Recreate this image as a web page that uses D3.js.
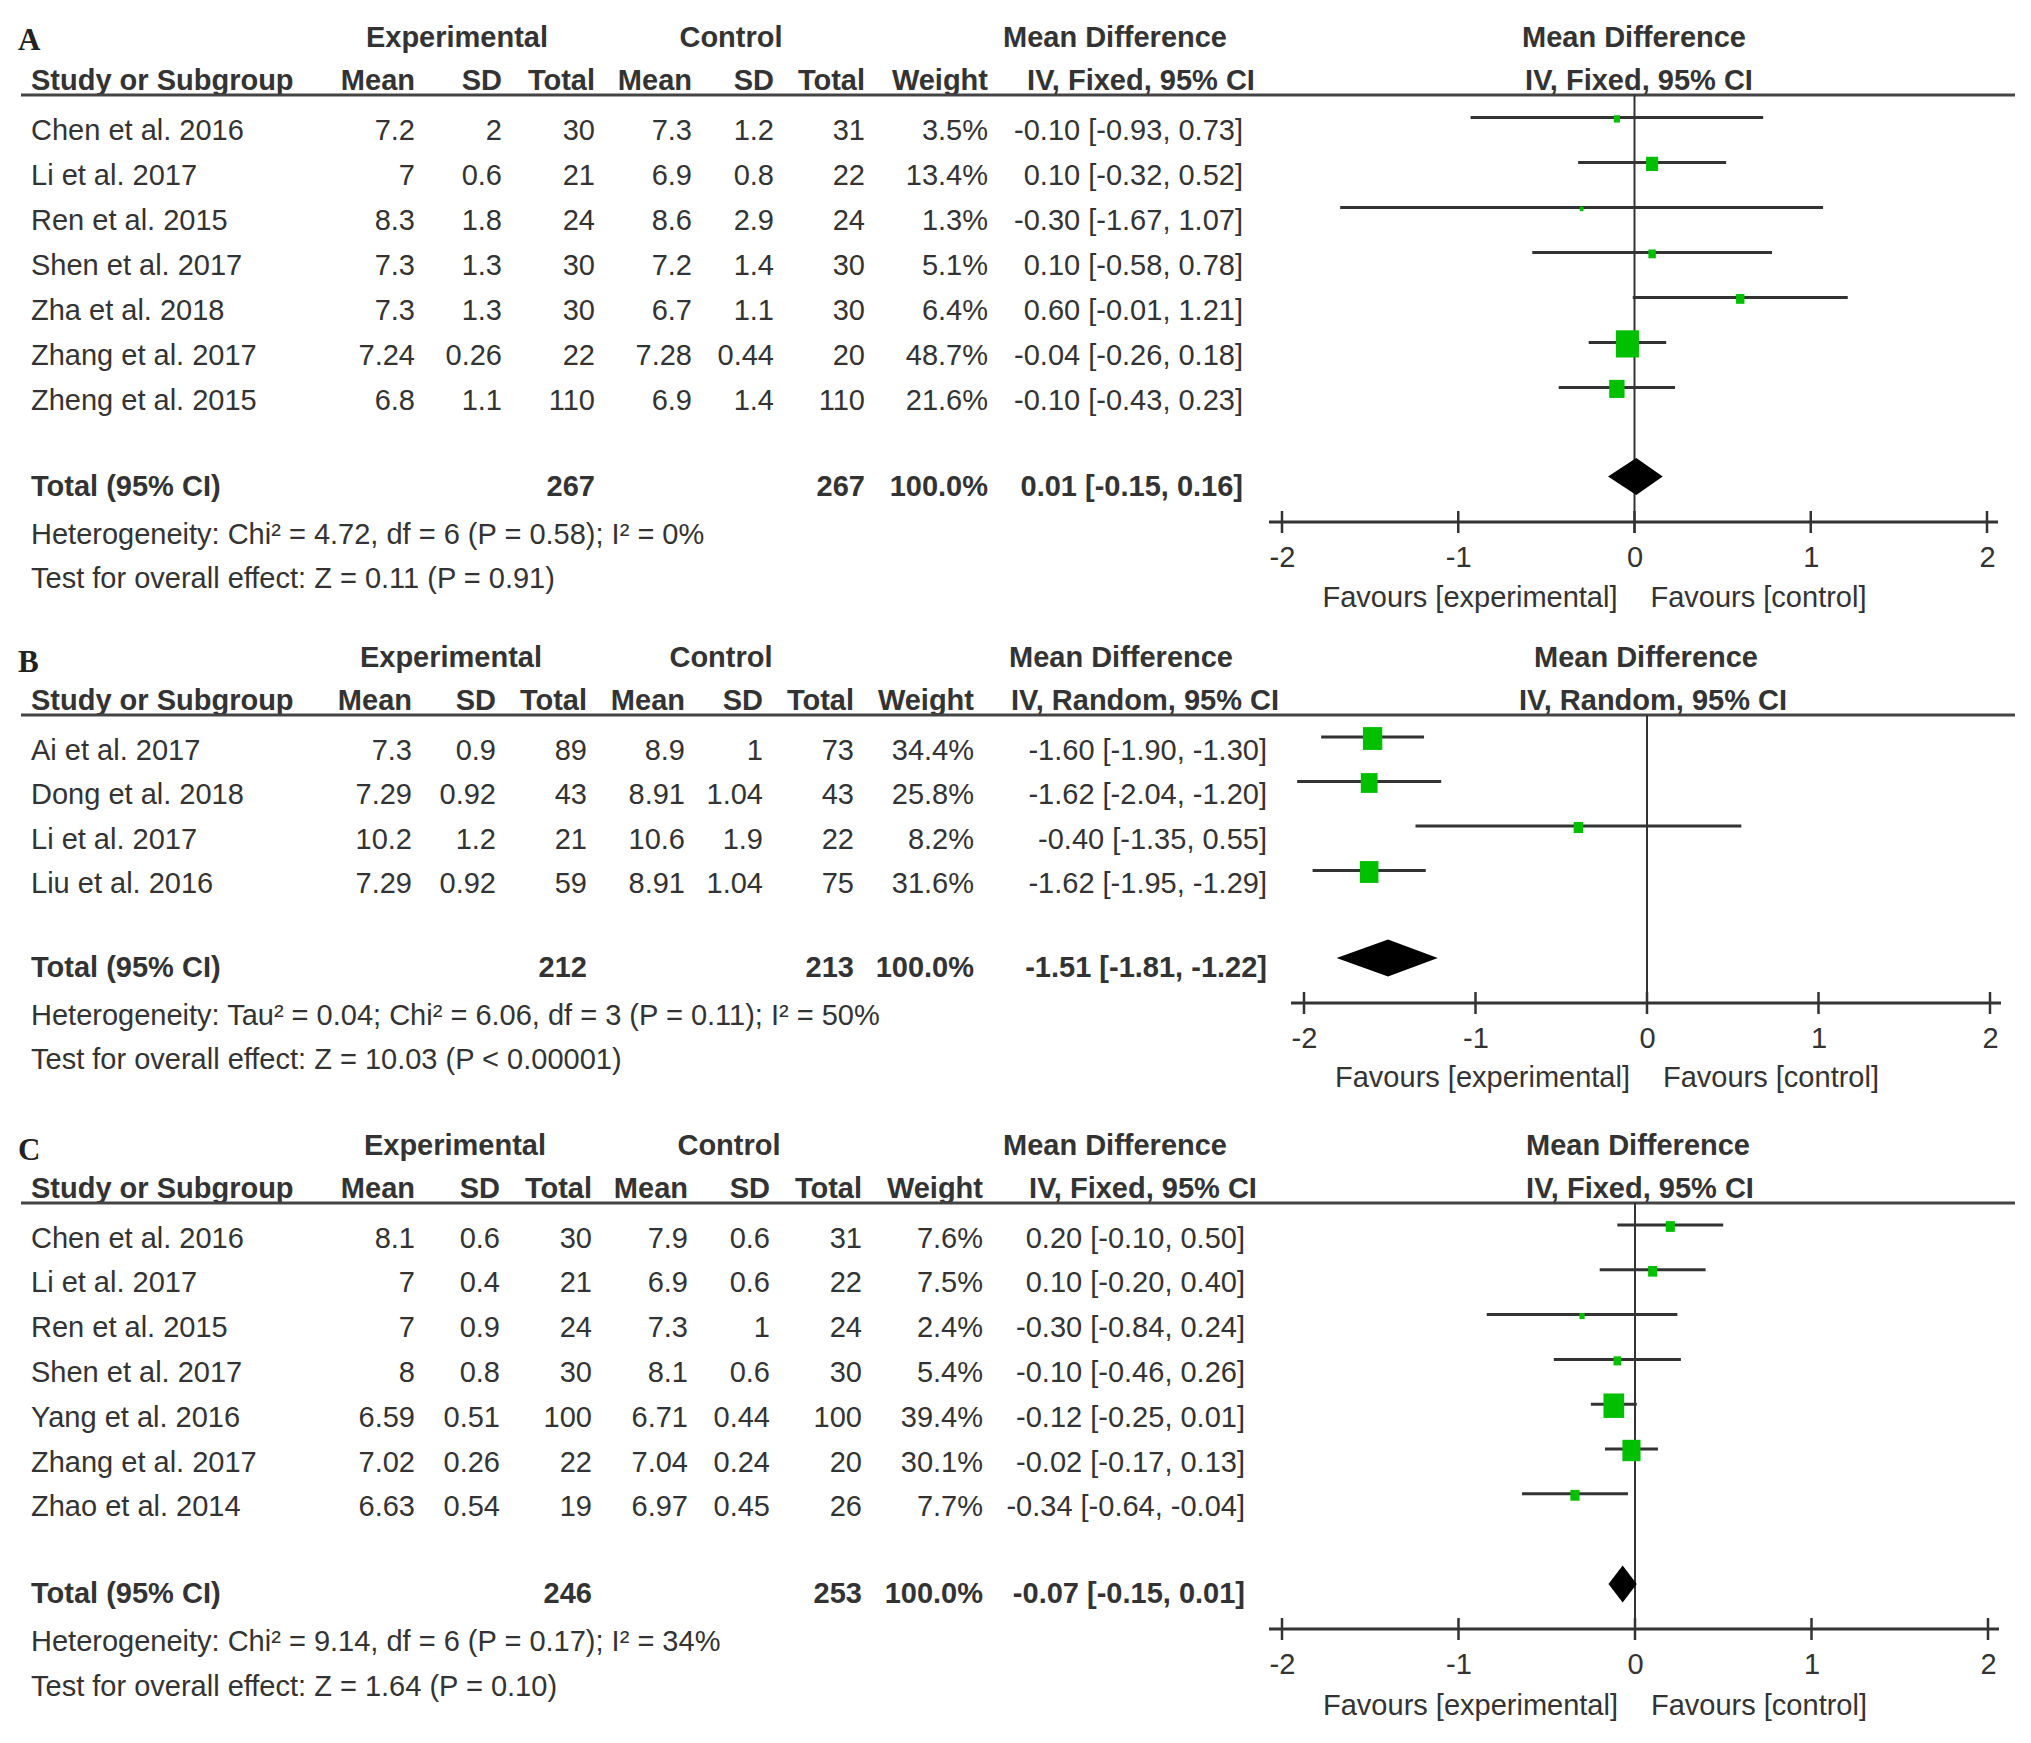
<!DOCTYPE html>
<html><head><meta charset="utf-8">
<script src="https://cdn.jsdelivr.net/npm/d3@7"></script>
<style>body{margin:0;background:#fff}svg{display:block}</style>
</head><body>
<svg id="chart" width="2031" height="1743"></svg>
<script>
// ---------- DATA ----------
const ticks = [-2, -1, 0, 1, 2];

// Panel A
const studiesA = ["Chen et al. 2016","Li et al. 2017","Ren et al. 2015","Shen et al. 2017","Zha et al. 2018","Zhang et al. 2017","Zheng et al. 2015"];
const expMeanA = [7.2, 7, 8.3, 7.3, 7.3, 7.24, 6.8];
const expSDA   = [2, 0.6, 1.8, 1.3, 1.3, 0.26, 1.1];
const expNA    = [30, 21, 24, 30, 30, 22, 110];
const ctlMeanA = [7.3, 6.9, 8.6, 7.2, 6.7, 7.28, 6.9];
const ctlSDA   = [1.2, 0.8, 2.9, 1.4, 1.1, 0.44, 1.4];
const ctlNA    = [31, 22, 24, 30, 30, 20, 110];
const weightA  = [3.5, 13.4, 1.3, 5.1, 6.4, 48.7, 21.6];
const mdA      = [-0.10, 0.10, -0.30, 0.10, 0.60, -0.04, -0.10];
const lowA     = [-0.93, -0.32, -1.67, -0.58, -0.01, -0.26, -0.43];
const highA    = [0.73, 0.52, 1.07, 0.78, 1.21, 0.18, 0.23];
const totalA   = {expN: 267, ctlN: 267, md: 0.01, low: -0.15, high: 0.16};
const hetA  = "Heterogeneity: Chi² = 4.72, df = 6 (P = 0.58); I² = 0%";
const testA = "Test for overall effect: Z = 0.11 (P = 0.91)";

// Panel B
const studiesB = ["Ai et al. 2017","Dong et al. 2018","Li et al. 2017","Liu et al. 2016"];
const expMeanB = [7.3, 7.29, 10.2, 7.29];
const expSDB   = [0.9, 0.92, 1.2, 0.92];
const expNB    = [89, 43, 21, 59];
const ctlMeanB = [8.9, 8.91, 10.6, 8.91];
const ctlSDB   = [1, 1.04, 1.9, 1.04];
const ctlNB    = [73, 43, 22, 75];
const weightB  = [34.4, 25.8, 8.2, 31.6];
const mdB      = [-1.60, -1.62, -0.40, -1.62];
const lowB     = [-1.90, -2.04, -1.35, -1.95];
const highB    = [-1.30, -1.20, 0.55, -1.29];
const totalB   = {expN: 212, ctlN: 213, md: -1.51, low: -1.81, high: -1.22};
const hetB  = "Heterogeneity: Tau² = 0.04; Chi² = 6.06, df = 3 (P = 0.11); I² = 50%";
const testB = "Test for overall effect: Z = 10.03 (P < 0.00001)";

// Panel C
const studiesC = ["Chen et al. 2016","Li et al. 2017","Ren et al. 2015","Shen et al. 2017","Yang et al. 2016","Zhang et al. 2017","Zhao et al. 2014"];
const expMeanC = [8.1, 7, 7, 8, 6.59, 7.02, 6.63];
const expSDC   = [0.6, 0.4, 0.9, 0.8, 0.51, 0.26, 0.54];
const expNC    = [30, 21, 24, 30, 100, 22, 19];
const ctlMeanC = [7.9, 6.9, 7.3, 8.1, 6.71, 7.04, 6.97];
const ctlSDC   = [0.6, 0.6, 1, 0.6, 0.44, 0.24, 0.45];
const ctlNC    = [31, 22, 24, 30, 100, 20, 26];
const weightC  = [7.6, 7.5, 2.4, 5.4, 39.4, 30.1, 7.7];
const mdC      = [0.20, 0.10, -0.30, -0.10, -0.12, -0.02, -0.34];
const lowC     = [-0.10, -0.20, -0.84, -0.46, -0.25, -0.17, -0.64];
const highC    = [0.50, 0.40, 0.24, 0.26, 0.01, 0.13, -0.04];
const totalC   = {expN: 246, ctlN: 253, md: -0.07, low: -0.15, high: 0.01};
const hetC  = "Heterogeneity: Chi² = 9.14, df = 6 (P = 0.17); I² = 34%";
const testC = "Test for overall effect: Z = 1.64 (P = 0.10)";

// ---------- LAYOUT ----------
const panels = [
  {letter:"A", method:"IV, Fixed, 95% CI",
   studies:studiesA, em:expMeanA, es:expSDA, en:expNA, cm:ctlMeanA, cs:ctlSDA, cn:ctlNA, w:weightA, md:mdA, lo:lowA, hi:highA, total:totalA, het:hetA, test:testA,
   letterY:50, h1:47, h2:90, line:95, row0:117.4, step:45, diamond:476.5, axis:522, tickY:567, favY:607, hetY:544, testY:588,
   cols:{mean:415, sd:502, tot:595, cmean:692, csd:774, ctot:865, wt:988, ci:1243},
   hdr:{exp:457, ctl:731, md:1115, iv:1141, rmd:1634, riv:1639},
   xr:[1282, 1987]},
  {letter:"B", method:"IV, Random, 95% CI",
   studies:studiesB, em:expMeanB, es:expSDB, en:expNB, cm:ctlMeanB, cs:ctlSDB, cn:ctlNB, w:weightB, md:mdB, lo:lowB, hi:highB, total:totalB, het:hetB, test:testB,
   letterY:672, h1:667, h2:710, line:715, row0:737, step:44.5, diamond:958, axis:1003, tickY:1048, favY:1087, hetY:1025, testY:1069,
   cols:{mean:412, sd:496, tot:587, cmean:685, csd:763, ctot:854, wt:974, ci:1267},
   hdr:{exp:451, ctl:721, md:1121, iv:1145, rmd:1646, riv:1653},
   xr:[1304, 1990]},
  {letter:"C", method:"IV, Fixed, 95% CI",
   studies:studiesC, em:expMeanC, es:expSDC, en:expNC, cm:ctlMeanC, cs:ctlSDC, cn:ctlNC, w:weightC, md:mdC, lo:lowC, hi:highC, total:totalC, het:hetC, test:testC,
   letterY:1160, h1:1155, h2:1198, line:1203, row0:1225, step:44.8, diamond:1584, axis:1629, tickY:1674, favY:1715, hetY:1651, testY:1696,
   cols:{mean:415, sd:500, tot:592, cmean:688, csd:770, ctot:862, wt:983, ci:1245},
   hdr:{exp:455, ctl:729, md:1115, iv:1143, rmd:1638, riv:1640},
   xr:[1282, 1988]}
];

const svg = d3.select("#chart");
const FONT = "'Liberation Sans', Arial, sans-serif";
const FS = 29;
const TXT = "#333";
const GREEN = "#00c000";
const fmtCI = (m, l, h) => `${m.toFixed(2)} [${l.toFixed(2)}, ${h.toFixed(2)}]`;

function txt(g, x, y, s, opts = {}) {
  return g.append("text").attr("x", x).attr("y", y).text(s)
    .attr("font-family", FONT).attr("font-size", opts.size || FS)
    .attr("font-weight", opts.bold ? "bold" : "normal")
    .attr("fill", TXT).attr("text-anchor", opts.anchor || "start");
}

panels.forEach(p => {
  const g = svg.append("g");
  const x = d3.scaleLinear().domain([-2, 2]).range(p.xr);
  const n = p.studies.length;
  const y = d3.scaleLinear().domain([0, 1]).range([p.row0, p.row0 + p.step]);

  // panel letter
  g.append("text").attr("x", 18).attr("y", p.letterY).text(p.letter)
    .attr("font-family", "'Liberation Serif', 'Times New Roman', serif")
    .attr("font-weight", "bold").attr("font-size", 31).attr("fill", "#222");

  // header row 1
  txt(g, p.hdr.exp, p.h1, "Experimental", {bold:true, anchor:"middle"});
  txt(g, p.hdr.ctl, p.h1, "Control", {bold:true, anchor:"middle"});
  txt(g, p.hdr.md, p.h1, "Mean Difference", {bold:true, anchor:"middle"});
  txt(g, p.hdr.rmd, p.h1, "Mean Difference", {bold:true, anchor:"middle"});
  // header row 2
  txt(g, 31, p.h2, "Study or Subgroup", {bold:true});
  const c = p.cols;
  [["Mean", c.mean], ["SD", c.sd], ["Total", c.tot], ["Mean", c.cmean], ["SD", c.csd], ["Total", c.ctot], ["Weight", c.wt]]
    .forEach(([s, xx]) => txt(g, xx, p.h2, s, {bold:true, anchor:"end"}));
  txt(g, p.hdr.iv, p.h2, p.method, {bold:true, anchor:"middle"});
  txt(g, p.hdr.riv, p.h2, p.method, {bold:true, anchor:"middle"});

  // header line
  g.append("line").attr("x1", 21).attr("x2", 2015).attr("y1", p.line).attr("y2", p.line)
    .attr("stroke", "#444").attr("stroke-width", 3);

  // rows
  for (let i = 0; i < n; i++) {
    const ly = y(i), by = ly + 22.6;
    txt(g, 31, by, p.studies[i]);
    txt(g, c.mean, by, String(p.em[i]), {anchor:"end"});
    txt(g, c.sd, by, String(p.es[i]), {anchor:"end"});
    txt(g, c.tot, by, String(p.en[i]), {anchor:"end"});
    txt(g, c.cmean, by, String(p.cm[i]), {anchor:"end"});
    txt(g, c.csd, by, String(p.cs[i]), {anchor:"end"});
    txt(g, c.ctot, by, String(p.cn[i]), {anchor:"end"});
    txt(g, c.wt, by, p.w[i].toFixed(1) + "%", {anchor:"end"});
    txt(g, c.ci, by, fmtCI(p.md[i], p.lo[i], p.hi[i]), {anchor:"end"});
  }

  // total row
  const tb = p.diamond + 19;
  txt(g, 31, tb, "Total (95% CI)", {bold:true});
  txt(g, c.tot, tb, String(p.total.expN), {bold:true, anchor:"end"});
  txt(g, c.ctot, tb, String(p.total.ctlN), {bold:true, anchor:"end"});
  txt(g, c.wt, tb, "100.0%", {bold:true, anchor:"end"});
  txt(g, c.ci, tb, fmtCI(p.total.md, p.total.low, p.total.high), {bold:true, anchor:"end"});
  txt(g, 31, p.hetY, p.het);
  txt(g, 31, p.testY, p.test);

  // zero line
  g.append("line").attr("x1", x(0)).attr("x2", x(0)).attr("y1", p.line).attr("y2", p.axis + 11)
    .attr("stroke", "#333").attr("stroke-width", 2);

  // CI lines and boxes
  for (let i = 0; i < n; i++) {
    const ly = y(i);
    g.append("line").attr("x1", x(p.lo[i])).attr("x2", x(p.hi[i])).attr("y1", ly).attr("y2", ly)
      .attr("stroke", "#333").attr("stroke-width", 3);
    const bw = 3.3 * Math.sqrt(p.w[i]);
    const bh = bw * 1.18;
    g.append("rect").attr("x", x(p.md[i]) - bw / 2).attr("y", ly + 1.5 - bh / 2)
      .attr("width", bw).attr("height", bh).attr("fill", GREEN);
  }

  // diamond
  const dy = p.diamond, dh = 18.5;
  g.append("path")
    .attr("d", `M${x(p.total.low)},${dy} L${x(p.total.md)},${dy - dh} L${x(p.total.high)},${dy} L${x(p.total.md)},${dy + dh} Z`)
    .attr("fill", "#000");

  // axis
  const axis = d3.axisBottom(x).tickValues(ticks).tickSize(0).tickFormat(d => String(d));
  const ag = g.append("g").attr("transform", `translate(0,${p.axis})`).call(axis);
  ag.select(".domain").remove();
  ag.selectAll("text").attr("y", p.tickY - p.axis).attr("dy", 0)
    .attr("font-family", FONT).attr("font-size", FS).attr("fill", TXT);
  g.append("line").attr("x1", x(-2) - 13).attr("x2", x(2) + 11).attr("y1", p.axis).attr("y2", p.axis)
    .attr("stroke", "#333").attr("stroke-width", 3);
  ticks.forEach(t => g.append("line").attr("x1", x(t)).attr("x2", x(t))
    .attr("y1", p.axis - 11).attr("y2", p.axis + 11).attr("stroke", "#333").attr("stroke-width", 2.5));

  // favours
  txt(g, x(0) - 17, p.favY, "Favours [experimental]", {anchor:"end"});
  txt(g, x(0) + 16, p.favY, "Favours [control]");
});
</script>
</body></html>
